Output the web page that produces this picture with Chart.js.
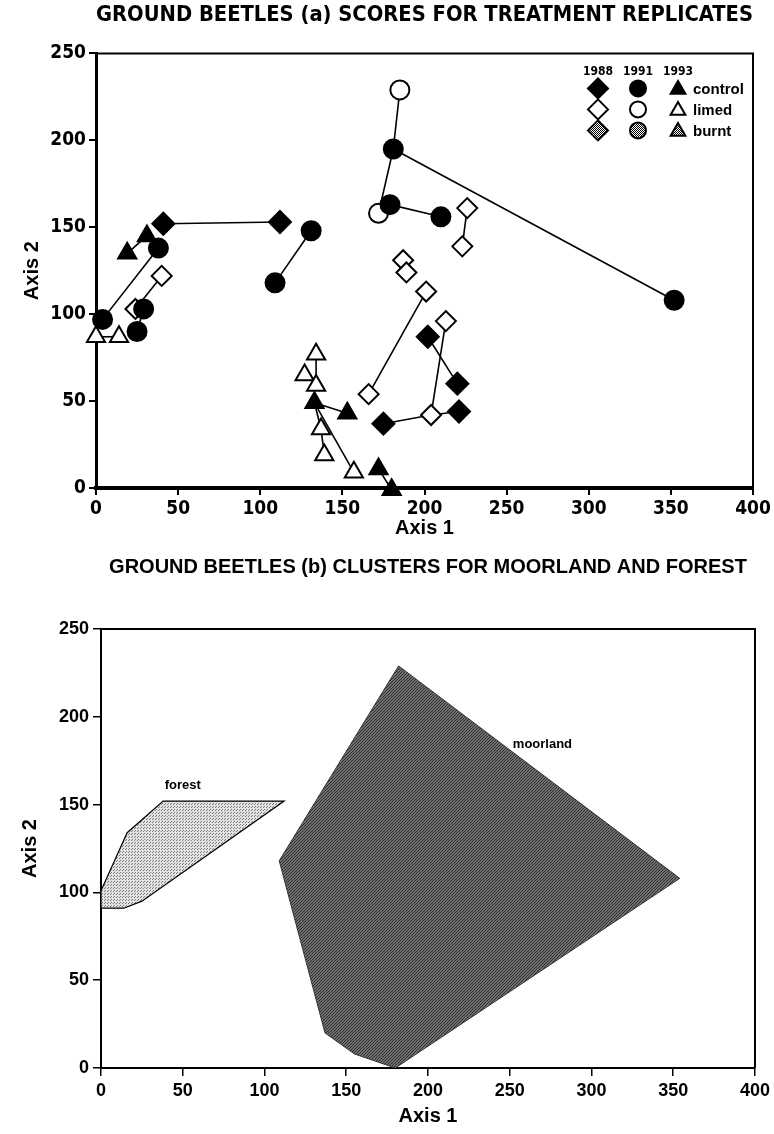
<!DOCTYPE html>
<html><head><meta charset="utf-8">
<script src="https://cdn.jsdelivr.net/npm/chart.js@4/dist/chart.umd.min.js"></script>
<style>
html,body{margin:0;padding:0;background:#fff;}
#wrap{width:774px;height:1134px;position:relative;overflow:hidden;}
.box{position:absolute;left:0;width:774px;}
</style></head><body>
<div id="wrap">
  <div class="box" style="top:0;height:545px"><canvas id="topChart"></canvas></div>
  <div class="box" style="top:545px;height:589px"><canvas id="botChart"></canvas></div>
</div>
<script>
// ---------- data ----------
const xTicks = [0, 50, 100, 150, 200, 250, 300, 350, 400];
const yTicks = [0, 50, 100, 150, 200, 250];

// (a) treatment replicate scores [Axis 1, Axis 2]
const control1988 = [[41,152],[112,153],[202,87],[220,60],[221,44],[175,37]];
const control1991 = [[4,97],[38,138],[25,90],[29,103],[109,118],[131,148],[181,195],[179,163],[210,156],[352,108]];
const control1993 = [[19,135],[31,145],[133,49],[153,43],[172,11],[180,-1]];
const limed1988   = [[24,103],[40,122],[187,131],[189,124],[201,113],[166,54],[213,96],[204,42],[226,161],[223,139]];
const limed1991   = [[185,229],[172,158]];
const limed1993   = [[0,87],[14,87],[134,77],[127,65],[134,59],[137,34],[139,19],[157,9]];

// joins between replicate scores
const links = [
  [[41,152],[112,153]], [[19,135],[31,145]], [[4,97],[38,138]], [[24,103],[40,122]],
  [[25,90],[29,103]], [[0,87],[14,87]], [[109,118],[131,148]], [[185,229],[181,195]],
  [[181,195],[352,108]], [[181,195],[172,158]], [[179,163],[210,156]], [[226,161],[223,139]],
  [[201,113],[166,54]], [[213,96],[204,42]], [[202,87],[220,60]], [[204,42],[221,44]],
  [[175,37],[204,42]], [[134,77],[134,59]], [[133,49],[153,43]], [[137,34],[139,19]],
  [[133,49],[157,9]], [[133,49],[137,34]], [[172,11],[180,-1]]
];

// (b) cluster outlines
const forestHull   = [[0,91],[0,101],[16,134],[38,152],[112,152],[25,95],[14,91],[0,91]];
const moorlandHull = [[109,118],[182,229],[354,108],[180,0],[155,8],[137,20],[109,118]];
const clusterLabels = [['forest', 50, 161], ['moorland', 270, 184]];

// ---------- helpers ----------
const pts = arr => arr.map(p => ({x: p[0], y: p[1]}));
function makePattern(bg, fg, size, dots) {
  const c = document.createElement('canvas');
  c.width = c.height = size;
  const g = c.getContext('2d');
  g.fillStyle = bg; g.fillRect(0, 0, size, size);
  g.fillStyle = fg;
  dots.forEach(d => g.fillRect(d[0], d[1], 1, 1));
  return g.createPattern(c, 'repeat');
}
const burntPattern = makePattern('#ffffff', '#000000', 2, [[0,0],[1,1]]);
const forestPattern = makePattern('#e2e2e2', '#7a7a7a', 3, [[0,0],[2,1]]);
const moorPattern = makePattern('#707070', '#2e2e2e', 3, [[0,0],[1,2],[2,1]]);

const FONT = "'Liberation Sans', Arial, Helvetica, sans-serif";
const NARROW = "'Liberation Sans Narrow', 'Arial Narrow', 'DejaVu Sans Condensed', 'Liberation Sans', sans-serif";

function markerSet(label, arr, style, radius, fill) {
  return {
    label, data: pts(arr), pointStyle: style, pointRadius: radius, pointHoverRadius: radius,
    pointBackgroundColor: fill, pointBorderColor: '#000', pointBorderWidth: 2,
    showLine: false, clip: false
  };
}

const framePlugin = {
  id: 'frame',
  beforeDatasetsDraw(chart, args, opts) {
    const {ctx, chartArea: a} = chart;
    ctx.save();
    ctx.strokeStyle = '#000';
    ctx.lineWidth = opts.width || 2;
    ctx.beginPath();
    ctx.moveTo(a.left, a.top); ctx.lineTo(a.right, a.top); ctx.lineTo(a.right, a.bottom);
    ctx.stroke();
    ctx.restore();
  }
};

function drawSym(ctx, kind, x, y, r, fill) {
  ctx.beginPath();
  if (kind === 'd') { ctx.moveTo(x - r, y); ctx.lineTo(x, y - r); ctx.lineTo(x + r, y); ctx.lineTo(x, y + r); ctx.closePath(); }
  else if (kind === 'c') { ctx.arc(x, y, r, 0, Math.PI * 2); }
  else { const s = r * Math.sqrt(3);
    ctx.moveTo(x, y - r); ctx.lineTo(x + s / 2, y + r / 2); ctx.lineTo(x - s / 2, y + r / 2); ctx.closePath(); }
  ctx.fillStyle = fill; ctx.fill();
  ctx.lineWidth = 2; ctx.strokeStyle = '#000'; ctx.stroke();
}

const legendPlugin = {
  id: 'yearLegend',
  afterDraw(chart) {
    const {ctx, chartArea: a} = chart;
    const cols = [a.right - 155, a.right - 115, a.right - 75];
    const rows = [a.top + 35, a.top + 56, a.top + 77];
    ctx.save();
    ctx.fillStyle = '#000';
    ctx.font = "bold 12px " + NARROW;
    ctx.textAlign = 'center'; ctx.textBaseline = 'middle';
    ['1988', '1991', '1993'].forEach((t, i) => ctx.fillText(t, cols[i], a.top + 18));
    const fills = ['#000', '#fff', burntPattern];
    const names = ['control', 'limed', 'burnt'];
    rows.forEach((y, r) => {
      drawSym(ctx, 'd', cols[0], y, 10, fills[r]);
      drawSym(ctx, 'c', cols[1], y, 8, fills[r]);
      drawSym(ctx, 't', cols[2], y + 1, 8.5, fills[r]);
      ctx.fillStyle = '#000';
      ctx.font = "bold 15px " + FONT;
      ctx.textAlign = 'left';
      ctx.fillText(names[r], a.right - 60, y + 1);
    });
    ctx.restore();
  }
};

const clusterTextPlugin = {
  id: 'clusterText',
  afterDatasetsDraw(chart) {
    const {ctx, scales: {x, y}} = chart;
    ctx.save();
    ctx.fillStyle = '#000';
    ctx.font = "bold 13px " + FONT;
    ctx.textAlign = 'center'; ctx.textBaseline = 'middle';
    clusterLabels.forEach(([t, vx, vy]) => ctx.fillText(t, x.getPixelForValue(vx), y.getPixelForValue(vy)));
    ctx.restore();
  }
};

function axes(cfg) {
  return {
    x: {
      type: 'linear', min: 0, max: 400,
      afterBuildTicks: s => { s.ticks = xTicks.map(v => ({value: v})); },
      afterFit: s => { s.height = cfg.xh; },
      ticks: {color: '#000', font: {family: cfg.tickFamily, size: cfg.tickSize, weight: 'bold'}, padding: cfg.xpad, maxRotation: 0, autoSkip: false},
      grid: {drawOnChartArea: false, drawTicks: true, tickLength: cfg.tick, color: '#000', lineWidth: cfg.tickW},
      border: {display: true, color: '#000', width: cfg.bx},
      title: {display: true, text: 'Axis 1', color: '#000', font: {family: FONT, size: cfg.titleSize, weight: 'bold'}, padding: {top: 0, bottom: cfg.xtb}}
    },
    y: {
      type: 'linear', min: 0, max: 250,
      afterBuildTicks: s => { s.ticks = yTicks.map(v => ({value: v})); },
      afterFit: s => { s.width = cfg.yw; },
      ticks: {color: '#000', font: {family: cfg.tickFamily, size: cfg.tickSize, weight: 'bold'}, padding: cfg.ypad, autoSkip: false},
      grid: {drawOnChartArea: false, drawTicks: true, tickLength: cfg.tick, color: '#000', lineWidth: cfg.tickW},
      border: {display: true, color: '#000', width: cfg.by},
      title: {display: true, text: 'Axis 2', color: '#000', font: {family: FONT, size: cfg.titleSize, weight: 'bold'}, padding: {top: cfg.ytt, bottom: 0}}
    }
  };
}

// ---------- chart (a) ----------
const topSets = [
  markerSet('control 1988', control1988, 'rectRot', 11, '#000'),
  markerSet('control 1991', control1991, 'circle', 9.5, '#000'),
  markerSet('control 1993', control1993, 'triangle', 10.5, '#000'),
  markerSet('limed 1988', limed1988, 'rectRot', 10, '#fff'),
  markerSet('limed 1991', limed1991, 'circle', 9.5, '#fff'),
  markerSet('limed 1993', limed1993, 'triangle', 10.5, '#fff')
];
links.forEach((l, i) => topSets.push({
  label: 'link' + i, data: pts(l), showLine: true, borderColor: '#000', borderWidth: 1.6,
  pointRadius: 0, pointHoverRadius: 0, fill: false, clip: false
}));

new Chart(document.getElementById('topChart'), {
  type: 'scatter',
  data: {datasets: topSets},
  options: {
    responsive: true, maintainAspectRatio: false, animation: false, events: [],
    layout: {padding: {left: 0, right: 21, top: 0, bottom: 0}},
    plugins: {
      legend: {display: false}, tooltip: {enabled: false},
      title: {display: true, fullSize: false, text: 'GROUND BEETLES (a) SCORES FOR TREATMENT REPLICATES',
        color: '#000', font: {family: NARROW, size: 22, weight: 'bold'}, padding: {top: 2, bottom: 25}},
      frame: {width: 2}
    },
    scales: axes({xh: 57, yw: 96, tick: 7, tickW: 2, bx: 4, by: 3, tickFamily: NARROW, tickSize: 19,
      xpad: 3, ypad: 3, titleSize: 20, xtb: 5, ytt: 20})
  },
  plugins: [framePlugin, legendPlugin]
});

// ---------- chart (b) ----------
new Chart(document.getElementById('botChart'), {
  type: 'scatter',
  data: {datasets: [
    {label: 'forest', data: pts(forestHull), showLine: true, fill: 'shape', backgroundColor: forestPattern,
     borderColor: '#000', borderWidth: 1.2, pointRadius: 0, tension: 0},
    {label: 'moorland', data: pts(moorlandHull), showLine: true, fill: 'shape', backgroundColor: moorPattern,
     borderColor: '#333', borderWidth: 1, pointRadius: 0, tension: 0}
  ]},
  options: {
    responsive: true, maintainAspectRatio: false, animation: false, events: [],
    layout: {padding: {left: 0, right: 19, top: 0, bottom: 0}},
    plugins: {
      legend: {display: false}, tooltip: {enabled: false},
      title: {display: true, fullSize: false, text: 'GROUND BEETLES (b) CLUSTERS FOR MOORLAND AND FOREST',
        color: '#000', font: {family: FONT, size: 20, weight: 'bold'}, padding: {top: 10, bottom: 50}},
      frame: {width: 2}
    },
    scales: axes({xh: 66, yw: 101, tick: 8, tickW: 1.5, bx: 2, by: 2, tickFamily: FONT, tickSize: 18,
      xpad: 4, ypad: 4, titleSize: 20, xtb: 6, ytt: 18})
  },
  plugins: [framePlugin, clusterTextPlugin]
});
</script>
</body></html>
